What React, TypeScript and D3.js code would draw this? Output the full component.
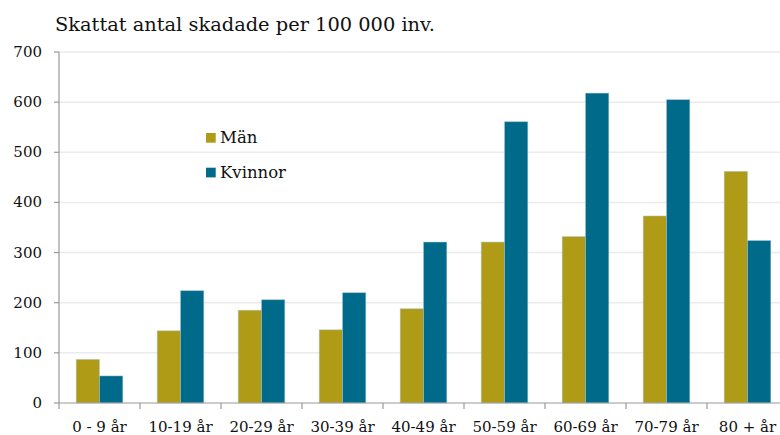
import React from "react";
import * as d3 from "d3";

const categories = ["0 - 9 år", "10-19 år", "20-29 år", "30-39 år", "40-49 år", "50-59 år", "60-69 år", "70-79 år", "80 + år"];
const seriesNames = ["Män", "Kvinnor"];
const man = [87, 144, 185, 146, 188, 321, 332, 373, 462];
const kvinnor = [54, 224, 206, 220, 321, 561, 618, 605, 324];
const yTicks = [0, 100, 200, 300, 400, 500, 600, 700];
const colors = ["#b09b17", "#006a8a"];
const title = "Skattat antal skadade per 100 000 inv.";

const W = 780, H = 435;
const left = 59, right = 788, top = 52, bottom = 403;
const FONT = "DejaVu Serif";

export default function App() {
  const x = d3.scaleBand<string>().domain(categories).range([left, right]);
  const y = d3.scaleLinear().domain([0, 700]).range([bottom, top]);
  const inner = d3.scaleBand<string>().domain(seriesNames).range([0, x.bandwidth()]).paddingOuter(0.738).paddingInner(0);
  const series = [man, kvinnor];
  return (
    <svg width={W} height={H} style={{ position: "absolute", left: 0, top: 0, background: "#fff", fontFamily: FONT }}>
      <text x={55} y={31} fontSize={19.4} fill="#111">{title}</text>
      {yTicks.map((t) => (
        <g key={t}>
          {t > 0 && <line x1={left} x2={W} y1={y(t)} y2={y(t)} stroke="#ebebeb" strokeWidth={1.5} />}
          <line x1={left - 5} x2={left} y1={y(t)} y2={y(t)} stroke="#999" strokeWidth={1.2} />
          <text x={42} y={y(t) + 5} fontSize={15} textAnchor="end" fill="#111">{t}</text>
        </g>
      ))}
      {series.map((vals, si) =>
        categories.map((c, i) => (
          <rect key={si + "-" + i}
            x={(x(c) as number) + (inner(seriesNames[si]) as number)}
            y={y(vals[i])}
            width={inner.bandwidth()}
            height={bottom - y(vals[i])}
            fill={colors[si]}
            stroke="#a8c8d4" strokeOpacity={0.6} strokeWidth={0.8} />
        ))
      )}
      <line x1={left} x2={left} y1={top} y2={bottom} stroke="#999" strokeWidth={1.2} />
      <line x1={left} x2={W} y1={bottom} y2={bottom} stroke="#999" strokeWidth={1.2} />
      {categories.map((c, i) => (
        <g key={c}>
          <line x1={(x(c) as number)} x2={(x(c) as number)} y1={bottom} y2={bottom + 6} stroke="#999" strokeWidth={1.2} />
          <text x={(x(c) as number) + x.bandwidth() / 2} y={432} fontSize={15} textAnchor="middle" fill="#111">{c}</text>
        </g>
      ))}
      {seriesNames.map((s, i) => (
        <g key={s}>
          <rect x={206} y={133 + i * 34.7} width={9.7} height={9.7} fill={colors[i]} />
          <text x={220} y={143.3 + i * 34.7} fontSize={16.5} fill="#111">{s}</text>
        </g>
      ))}
    </svg>
  );
}
